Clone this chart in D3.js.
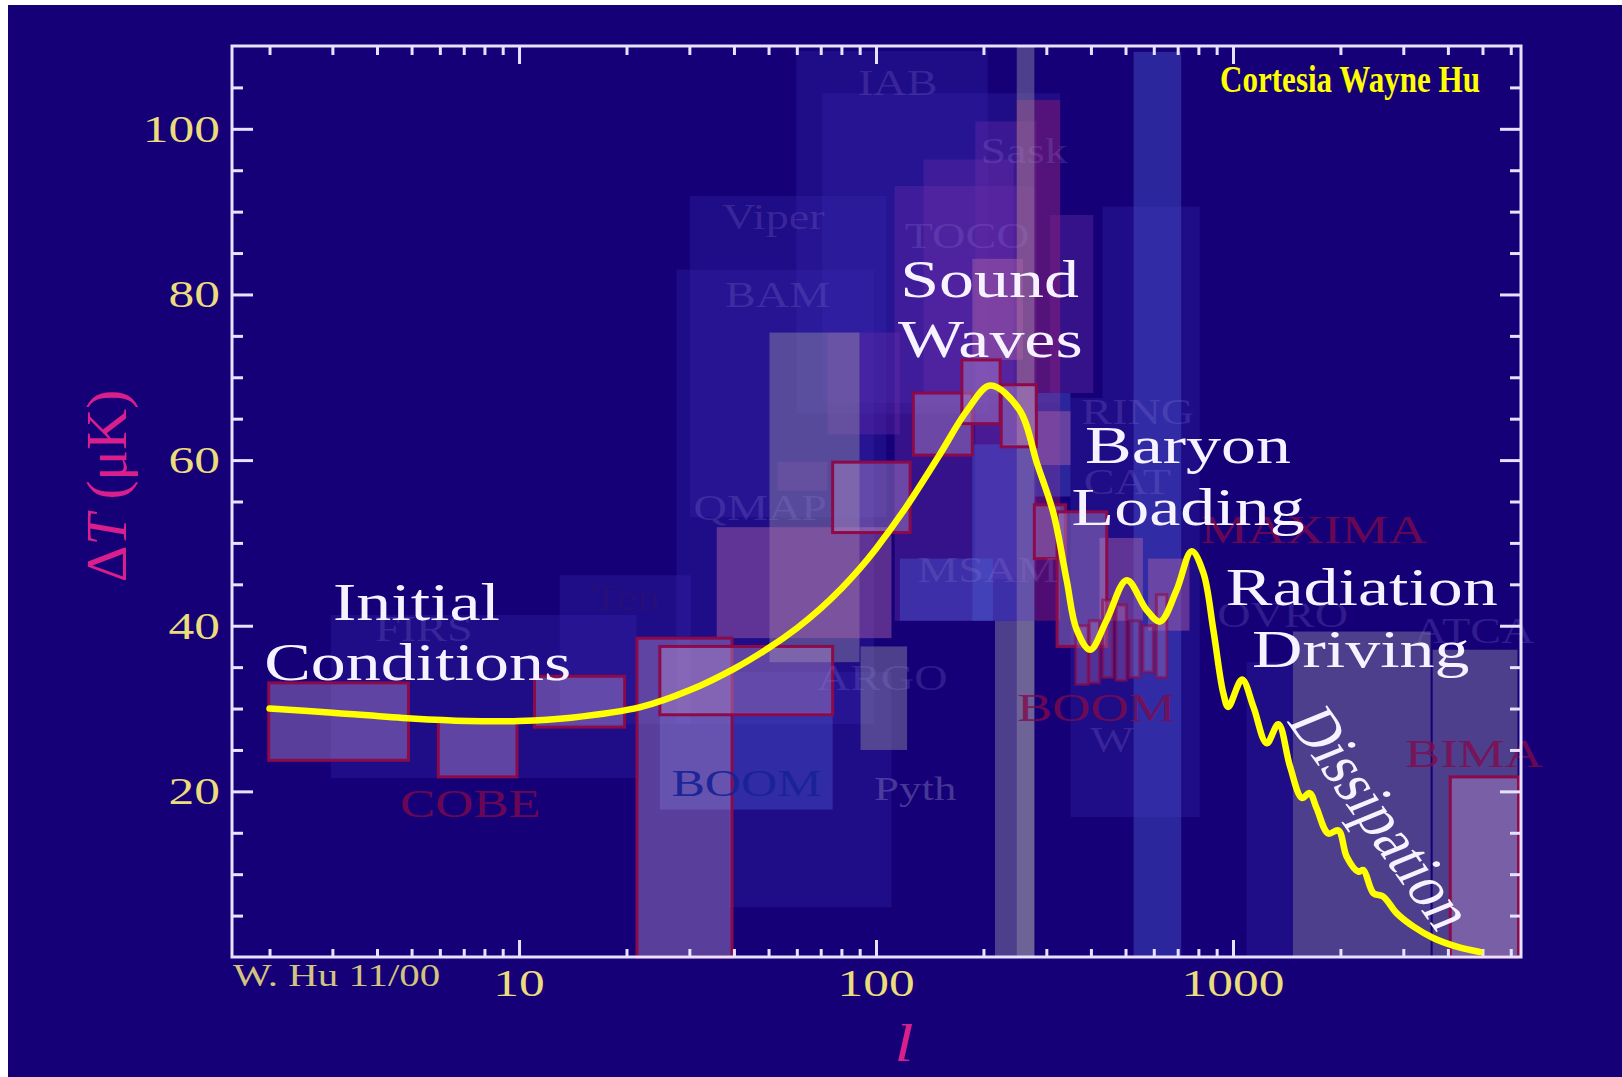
<!DOCTYPE html>
<html>
<head>
<meta charset="utf-8">
<script src="https://cdn.jsdelivr.net/npm/d3@7"></script>
<style>
  html, body { margin: 0; padding: 0; background: #ffffff; }
  svg { display: block; }
</style>
</head>
<body>
<svg id="chart" width="1622" height="1077"></svg>
<script>
// Espectro teorico: multipolo l y amplitud Delta T (uK)
const curveL = [2, 3, 5, 7.2, 10, 14, 22, 30, 40, 50, 60, 70, 80, 90, 100, 120, 150, 180, 209, 252, 283, 314, 342, 365, 398, 443, 504, 573, 625, 695, 766, 826, 881, 939, 970, 1060, 1141, 1243, 1340, 1445, 1560, 1640, 1714, 1849, 1974, 2083, 2245, 2318, 2474, 2637, 2873, 3198, 3639, 4236, 4921];
const curveT = [30.0, 29.5, 28.8, 28.5, 28.5, 28.9, 30.2, 32.2, 34.8, 37.3, 39.7, 42.1, 44.5, 46.9, 49.3, 54.0, 60.5, 66.0, 69.0, 66.1, 59.5, 53.6, 45.5, 39.5, 37.1, 40.7, 45.5, 41.9, 40.5, 44.3, 49.0, 46.4, 39.5, 31.9, 30.2, 33.5, 30.2, 25.8, 28.1, 23.0, 19.2, 19.8, 18.0, 14.9, 15.3, 12.1, 10.3, 10.5, 7.7, 7.3, 5.3, 3.7, 2.3, 1.25, 0.6];

// Cajas de los experimentos: [l min, l max, T min, T max]
const faintBoxes = [
  [59.8, 205.6, 65.6, 109.4],
  [70.7, 328, 66.9, 104.3],
  [30.1, 106.9, 53.1, 91.9],
  [27.6, 98.7, 28.1, 83.0],
  [2.97, 21.3, 21.6, 41.3],
  [13.0, 30.3, 28.1, 46.1],
  [38.8, 110.5, 6.0, 34.4],
  [350.7, 807.5, 16.9, 67.5],
  [431, 807, 67.5, 90.6],
  [1091, 1472, 0, 35.6]
];
const purpleBoxes = [
  [112.7, 277.7, 40.6, 93.1],
  [135.9, 242.9, 68.1, 96.3],
  [189.7, 281.4, 45.6, 100.9],
  [306.9, 406.1, 68.1, 89.6],
  [73.1, 116.6, 63.1, 75.4],
  [53.0, 73.1, 56.3, 59.8]
];
const magentaBoxes = [
  [247.9, 328.1, 40.6, 103.5]
];
const grayBoxes = [
  [50.3, 89.9, 35.6, 75.4],
  [90.5, 122.2, 25.0, 37.5],
  [247.9, 277.7, 0, 110],
  [215.4, 277.7, 0, 40.6],
  [1472, 3578, 0, 39.3],
  [3626, 6266, 0, 37.1]
];
const blueBoxes = [
  [24.8, 75.6, 17.8, 29.5],
  [116.6, 212.6, 40.6, 48.1],
  [526.7, 716.1, 0, 109.3],
  [186.1, 277.7, 40.6, 61.9],
  [277.7, 350.7, 55.6, 68.1]
];
const pinkBoxes = [
  [35.8, 110.5, 38.5, 51.9],
  [277.7, 350.7, 59.4, 65.9],
  [422.7, 559.4, 40.6, 50.6],
  [578.4, 755.3, 39.4, 48.1],
  [186.1, 258, 72.1, 84.3]
];
const outlinedBoxes = [
  [1.99, 4.90, 23.75, 33.1],
  [5.94, 9.87, 21.75, 28.6],
  [11.05, 19.76, 27.75, 33.9],
  [21.4, 39.5, 0, 38.5],
  [24.8, 75.6, 29.25, 37.5],
  [75.6, 124.6, 51.25, 59.75],
  [127.2, 186.1, 60.6, 68.1],
  [174.0, 222.7, 64.4, 72.1],
  [224.2, 281.4, 61.6, 69.1],
  [277.7, 339.2, 48.1, 54.6],
  [321.5, 443.0, 37.5, 53.75],
  [4062, 6310, 0, 21.75]
];
const boomBars = [
  [362.6, 392.9, 32.9, 40.0],
  [395.5, 422.7, 33.1, 40.6],
  [431.3, 461.1, 33.75, 43.1],
  [470.4, 502.6, 33.4, 42.5],
  [512.8, 548.3, 33.75, 40.6],
  [559.4, 598.1, 34.4, 40.0],
  [610.2, 652.6, 33.75, 43.75]
];

// Nombres de los experimentos: [nombre, l, T, tono]
const expLabels = [
  ["IAB", 115, 104.1, "faint"],
  ["Sask", 260, 95.9, "faint"],
  ["Viper", 51.6, 87.9, "faint"],
  ["TOCO", 180, 85.6, "faint"],
  ["BAM", 53, 78.5, "faint"],
  ["RING", 541, 64.4, "faint"],
  ["CAT", 506, 55.9, "faint"],
  ["QMAP", 47.4, 52.75, "faint"],
  ["MAXIMA", 1682, 50, "red"],
  ["MSAM", 205.6, 45.25, "faint"],
  ["Ten", 19.9, 41.9, "dark"],
  ["FIRS", 5.41, 38.1, "faint"],
  ["OVRO", 1377, 39.9, "faint"],
  ["ATCA", 4733, 37.9, "faint"],
  ["ARGO", 104, 32.25, "faint"],
  ["BOOM", 414, 28.5, "red"],
  ["W", 458, 24.75, "faint"],
  ["BIMA", 4733, 22.9, "red"],
  ["BOOM", 43.4, 19.4, "blue"],
  ["Pyth", 128.8, 19, "gray"],
  ["COBE", 7.31, 16.9, "red"]
];

// Anotaciones: [texto, l, T]
const notes = [
  ["Initial", 5.16, 40.7],
  ["Conditions", 5.2, 33.5],
  ["Sound", 208, 79.7],
  ["Waves", 209, 72.5],
  ["Baryon", 748, 59.7],
  ["Loading", 749, 52.2],
  ["Radiation", 2296, 42.5],
  ["Driving", 2280, 35.0]
];
const slantNote = ["Dissipation", 2630, 16.8];

const yLabels = [20, 40, 60, 80, 100];
const xLabels = [10, 100, 1000];

const serif = "'Liberation Serif', 'Times New Roman', serif";
const STRETCH = 1.32; // el original esta estirado en horizontal

const svg = d3.select("#chart");

// Fondo azul oscuro (con la franja blanca arriba y a la izquierda)
svg.append("rect")
  .attr("x", 8).attr("y", 5)
  .attr("width", 1614).attr("height", 1072)
  .attr("fill", "#150078");

const x = d3.scaleLog().domain([1.57, 6410]).range([232, 1521]);
const y = d3.scaleLinear().domain([0, 110]).range([957, 46]);

const plot = svg.append("g");

function drawBoxes(list, fill, opacity, stroke, strokeOpacity) {
  plot.append("g")
    .selectAll("rect")
    .data(list)
    .enter()
    .append("rect")
    .attr("x", d => x(d[0]))
    .attr("width", d => x(d[1]) - x(d[0]))
    .attr("y", d => y(d[3]))
    .attr("height", d => y(d[2]) - y(d[3]))
    .attr("fill", fill)
    .attr("fill-opacity", opacity)
    .attr("stroke", stroke || "none")
    .attr("stroke-opacity", strokeOpacity || 1)
    .attr("stroke-width", stroke ? 3 : 0);
}

drawBoxes(faintBoxes, "#3a2cb0", 0.28);
drawBoxes(purpleBoxes, "#6a2ca8", 0.38);
drawBoxes(magentaBoxes, "#8a1a70", 0.5);
drawBoxes(grayBoxes, "#9a96a8", 0.42);
drawBoxes(blueBoxes, "#4a5ad0", 0.42);
drawBoxes(pinkBoxes, "#a860a8", 0.48);
drawBoxes(outlinedBoxes, "#b08ac8", 0.45, "#8c0a4a");
drawBoxes(boomBars, "#b07ab8", 0.35, "#8c0a4a", 0.6);

// Nombres de los experimentos, muy tenues
const toneColor = {
  faint: "rgba(150,130,220,0.22)",
  dark: "rgba(40,15,120,0.8)",
  red: "rgba(130,10,75,0.8)",
  blue: "rgba(25,35,150,0.95)",
  gray: "rgba(120,110,180,0.5)"
};
const toneSize = { faint: "35px", dark: "35px", red: "40px", blue: "38px", gray: "34px" };
plot.append("g")
  .selectAll("text")
  .data(expLabels)
  .enter()
  .append("text")
  .attr("transform", d => "translate(" + x(d[1]) + "," + y(d[2]) + ") scale(" + STRETCH + ",1)")
  .attr("text-anchor", "middle")
  .style("font-family", serif)
  .style("font-size", d => toneSize[d[3]])
  .style("fill", d => toneColor[d[3]])
  .text(d => d[0]);

// Ticks: menores y mayores en los cuatro lados, hacia dentro
const xMajor = [10, 100, 1000];
const xMinor = [];
[1, 10, 100, 1000].forEach(function (dec) {
  for (let k = 2; k <= 9; k++) {
    const v = dec * k;
    if (v > x.domain()[0] && v < x.domain()[1]) xMinor.push(v);
  }
});
const yMajor = [20, 40, 60, 80, 100];
const yMinor = d3.range(5, 110, 5).filter(v => v % 20 !== 0);

function tickAxis(axis, tr) {
  const g = svg.append("g").attr("transform", tr).call(axis.tickFormat(""));
  g.select(".domain").remove();
  g.selectAll(".tick line").attr("stroke", "#e6e2ff").attr("stroke-width", 3);
}
tickAxis(d3.axisBottom(x).tickValues(xMinor).tickSizeOuter(0).tickSizeInner(-8), "translate(0,957)");
tickAxis(d3.axisBottom(x).tickValues(xMajor).tickSizeOuter(0).tickSizeInner(-17), "translate(0,957)");
tickAxis(d3.axisTop(x).tickValues(xMinor).tickSizeOuter(0).tickSizeInner(-9), "translate(0,46)");
tickAxis(d3.axisTop(x).tickValues(xMajor).tickSizeOuter(0).tickSizeInner(-18), "translate(0,46)");
tickAxis(d3.axisLeft(y).tickValues(yMinor).tickSizeOuter(0).tickSizeInner(-11), "translate(232,0)");
tickAxis(d3.axisLeft(y).tickValues(yMajor).tickSizeOuter(0).tickSizeInner(-21), "translate(232,0)");
tickAxis(d3.axisRight(y).tickValues(yMinor).tickSizeOuter(0).tickSizeInner(-11), "translate(1521,0)");
tickAxis(d3.axisRight(y).tickValues(yMajor).tickSizeOuter(0).tickSizeInner(-21), "translate(1521,0)");

// Marco del grafico
svg.append("rect")
  .attr("x", 232).attr("y", 46)
  .attr("width", 1521 - 232).attr("height", 957 - 46)
  .attr("fill", "none")
  .attr("stroke", "#e6e2ff")
  .attr("stroke-width", 3);

// Etiquetas de los ejes
svg.append("g")
  .selectAll("text")
  .data(yLabels)
  .enter()
  .append("text")
  .attr("transform", d => "translate(220," + (y(d) + 13) + ") scale(" + STRETCH + ",1)")
  .attr("text-anchor", "end")
  .style("font-family", serif)
  .style("font-size", "39px")
  .style("fill", "#ebdd7c")
  .text(d => d);

svg.append("g")
  .selectAll("text")
  .data(xLabels)
  .enter()
  .append("text")
  .attr("transform", d => "translate(" + x(d) + ",996) scale(" + STRETCH + ",1)")
  .attr("text-anchor", "middle")
  .style("font-family", serif)
  .style("font-size", "39px")
  .style("fill", "#ebdd7c")
  .text(d => d);

svg.append("text")
  .attr("transform", "translate(233,986) scale(" + STRETCH + ",1)")
  .style("font-family", serif)
  .style("font-size", "31px")
  .style("fill", "#d2c47e")
  .text("W. Hu 11/00");

const yTitle = svg.append("text")
  .attr("transform", "translate(106,486) rotate(-90)")
  .attr("text-anchor", "middle")
  .attr("dy", "0.35em")
  .style("font-family", serif)
  .style("font-size", "57px")
  .style("fill", "#d91f8e");
yTitle.append("tspan").text("\u0394");
yTitle.append("tspan").style("font-style", "italic").text("T");
yTitle.append("tspan").text(" (\u03bcK)");

svg.append("text")
  .attr("transform", "translate(904,1061) scale(" + STRETCH + ",1)")
  .attr("text-anchor", "middle")
  .style("font-family", serif)
  .style("font-style", "italic")
  .style("font-size", "52px")
  .style("fill", "#d91f8e")
  .text("l");

// Curva teorica
const line = d3.line()
  .x(d => x(d[0]))
  .y(d => y(d[1]))
  .curve(d3.curveCatmullRom.alpha(0.5));

svg.append("path")
  .datum(d3.zip(curveL, curveT))
  .attr("d", line)
  .attr("fill", "none")
  .attr("stroke", "#ffff00")
  .attr("stroke-width", 6.5)
  .attr("stroke-linejoin", "round")
  .attr("stroke-linecap", "round");

// Anotaciones en blanco
svg.append("g")
  .selectAll("text")
  .data(notes)
  .enter()
  .append("text")
  .attr("transform", d => "translate(" + x(d[1]) + "," + y(d[2]) + ") scale(" + STRETCH + ",1)")
  .attr("text-anchor", "middle")
  .style("font-family", serif)
  .style("font-size", "53px")
  .style("fill", "#f6f2ff")
  .text(d => d[0]);

svg.append("text")
  .attr("transform", "translate(" + x(slantNote[1]) + "," + y(slantNote[2]) + ") scale(" + STRETCH + ",1) rotate(61.7)")
  .attr("text-anchor", "middle")
  .attr("dy", "0.35em")
  .style("font-family", serif)
  .style("font-size", "53px")
  .style("fill", "#f6f2ff")
  .text(slantNote[0]);

// Creditos
svg.append("text")
  .attr("transform", "translate(1220,92) scale(0.84,1)")
  .style("font-family", serif)
  .style("font-weight", "bold")
  .style("font-size", "37px")
  .style("fill", "#ffff00")
  .text("Cortesia Wayne Hu");
</script>
</body>
</html>
